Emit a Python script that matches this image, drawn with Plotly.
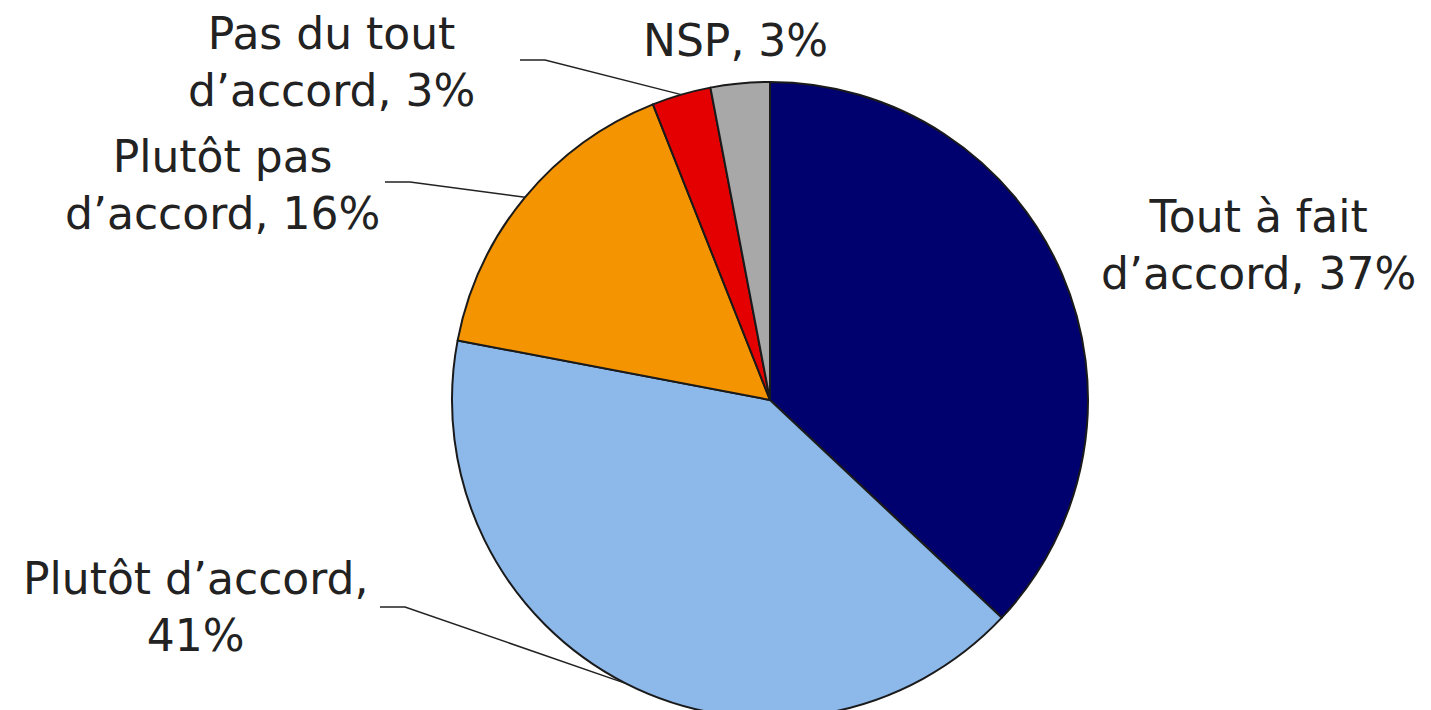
import math

import plotly.graph_objects as go

# data
categories = [
    "Tout à fait d’accord",
    "Plutôt d’accord",
    "Plutôt pas d’accord",
    "Pas du tout d’accord",
    "NSP",
]
shares = [37, 41, 16, 3, 3]
label_texts = [
    "Tout à fait<br>d’accord, 37%",
    "Plutôt d’accord,<br>41%",
    "Plutôt pas<br>d’accord, 16%",
    "Pas du tout<br>d’accord, 3%",
    "NSP, 3%",
]
colors = ["#00006E", "#8CB8EA", "#F39400", "#E40000", "#A8A8A8"]

W, H = 1431, 710
OFF = 8  # page body margin
CX, CY, R = 770 - OFF, 400 - OFF, 318  # pie centre / radius in figure px

# label positions (page px) and leader line start (page px, None = no leader)
label_pos = [(1258, 245), (195, 607), (222, 185), (331, 62), (735, 40)]
leader_start = [None, (380, 607), (385, 182), (520, 60), None]


def px_to_paper(x, y):
    return x / W, 1 - y / H


fig = go.Figure(go.Pie(
    labels=categories,
    values=shares,
    sort=False,
    direction="clockwise",
    rotation=0,
    textinfo="none",
    hoverinfo="skip",
    marker=dict(colors=colors, line=dict(color="#1a1a1a", width=2)),
    domain=dict(x=[(CX - R) / W, (CX + R) / W], y=[1 - (CY + R) / H, 1 - (CY - R) / H]),
    showlegend=False,
))

annotations = []
shapes = []
cum = 0
total = sum(shares)
for i, v in enumerate(shares):
    mid = (cum + v / 2) / total * 2 * math.pi
    cum += v
    ex, ey = CX + R * math.sin(mid), CY - R * math.cos(mid)
    lx, ly = label_pos[i]
    ax_, ay_ = px_to_paper(lx - OFF, ly - OFF)
    annotations.append(dict(
        x=ax_, y=ay_, xref="paper", yref="paper",
        xanchor="center", yanchor="middle",
        text=label_texts[i], showarrow=False, align="center",
        font=dict(family="DejaVu Sans", size=44, color="#222222"),
    ))
    if leader_start[i] is not None:
        sx, sy = leader_start[i]
        p0 = px_to_paper(sx - OFF, sy - OFF)
        p1 = px_to_paper(sx - OFF + 25, sy - OFF)
        p2 = px_to_paper(ex, ey)
        shapes.append(dict(
            type="path", xref="paper", yref="paper",
            path=f"M {p0[0]},{p0[1]} L {p1[0]},{p1[1]} L {p2[0]},{p2[1]}",
            line=dict(color="#222222", width=1.5),
        ))

fig.update_layout(
    width=W,
    height=H,
    margin=dict(l=0, r=0, t=0, b=0),
    paper_bgcolor="white",
    plot_bgcolor="white",
    annotations=annotations,
    shapes=shapes,
)
fig.write_html("out.html")
